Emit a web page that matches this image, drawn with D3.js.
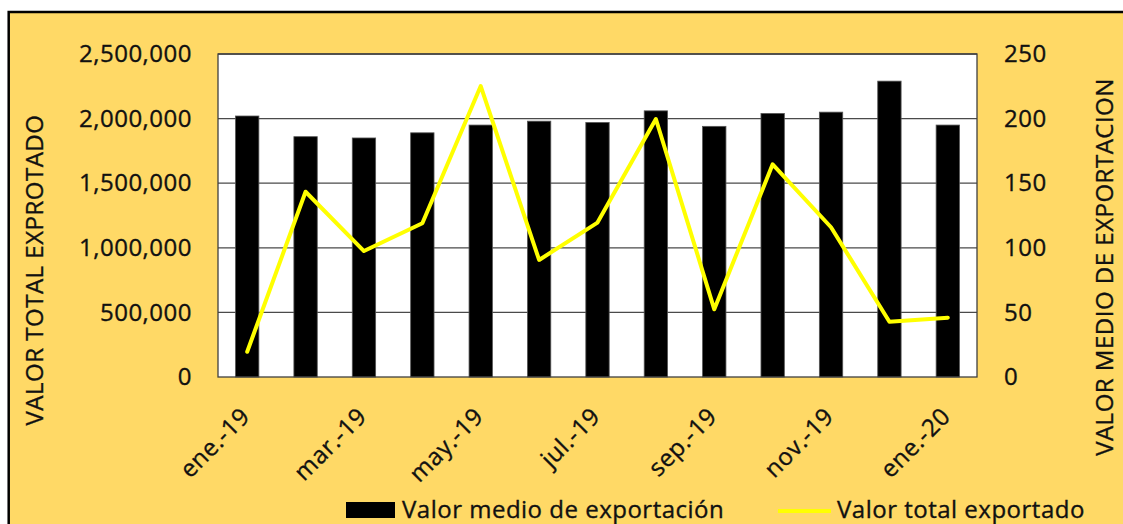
<!DOCTYPE html>
<html>
<head>
<meta charset="utf-8">
<script src="https://cdn.jsdelivr.net/npm/d3@7"></script>
<style>
  html, body { margin: 0; padding: 0; background: #fff; }
  svg { display: block; font-family: "Open Sans", sans-serif; letter-spacing: 0.5px; }
  svg text { stroke: #111; stroke-width: 0.35px; }
</style>
</head>
<body>
<svg id="chart" width="1123" height="524"></svg>
<script>
// monthly export figures
const months = ["ene.-19", "feb.-19", "mar.-19", "abr.-19", "may.-19", "jun.-19", "jul.-19",
  "ago.-19", "sep.-19", "oct.-19", "nov.-19", "dic.-19", "ene.-20"];
const valorMedio = [202, 186, 185, 189, 195, 198, 197, 206, 194, 204, 205, 229, 195];
const valorTotal = [195000, 1434000, 975000, 1190000, 2252000, 906000, 1195000,
  1997000, 524000, 1646000, 1159000, 428000, 459000];
const leftTicks = [0, 500000, 1000000, 1500000, 2000000, 2500000];
const rightTicks = [0, 50, 100, 150, 200, 250];
const shownMonths = ["ene.-19", "mar.-19", "may.-19", "jul.-19", "sep.-19", "nov.-19", "ene.-20"];

const plot = { left: 218, right: 977, top: 54, bottom: 377 };
const svg = d3.select('#chart');

// outer yellow frame (runs past the right/bottom edge like the crop)
svg.append('rect')
  .attr('x', 8.7).attr('y', 12)
  .attr('width', 1130).attr('height', 530)
  .attr('fill', '#FFD966')
  .attr('stroke', '#000')
  .attr('stroke-width', 2.5);

const x = d3.scaleBand()
  .domain(months)
  .range([plot.left, plot.right])
  .paddingInner(0.6)
  .paddingOuter(0.3);

const yL = d3.scaleLinear().domain([0, 2500000]).range([plot.bottom, plot.top]);
const yR = d3.scaleLinear().domain([0, 250]).range([plot.bottom, plot.top]);

// plot background
svg.append('rect')
  .attr('x', plot.left).attr('y', plot.top)
  .attr('width', plot.right - plot.left)
  .attr('height', plot.bottom - plot.top)
  .attr('fill', '#fff');

// gridlines
svg.append('g')
  .selectAll('line')
  .data(leftTicks.slice(1))
  .join('line')
  .attr('x1', plot.left).attr('x2', plot.right)
  .attr('y1', (d) => yL(d)).attr('y2', (d) => yL(d))
  .attr('stroke', '#4a4a4a')
  .attr('stroke-width', 1.3);

// bars: valor medio (right axis)
svg.append('g')
  .selectAll('rect')
  .data(months)
  .join('rect')
  .attr('x', (d) => x(d))
  .attr('y', (d, i) => yR(valorMedio[i]))
  .attr('width', x.bandwidth())
  .attr('height', (d, i) => plot.bottom - yR(valorMedio[i]))
  .attr('fill', '#000')
  .attr('stroke', '#555')
  .attr('stroke-width', 0.8);

// plot border
svg.append('rect')
  .attr('x', plot.left).attr('y', plot.top)
  .attr('width', plot.right - plot.left)
  .attr('height', plot.bottom - plot.top)
  .attr('fill', 'none')
  .attr('stroke', '#404040')
  .attr('stroke-width', 1.3);

// line: valor total (left axis)
const line = d3.line()
  .x((d, i) => x(months[i]) + x.bandwidth() / 2)
  .y((d) => yL(d));

svg.append('path')
  .datum(valorTotal)
  .attr('d', line)
  .attr('fill', 'none')
  .attr('stroke', '#FFFF00')
  .attr('stroke-width', 4)
  .attr('stroke-linejoin', 'round')
  .attr('stroke-linecap', 'round');

// axes
const styleAxis = (g) => {
  g.select('.domain').remove();
  g.selectAll('text')
    .attr('fill', '#111')
    .style('font-size', '24px')
    .style('font-family', '"Open Sans", sans-serif');
};

svg.append('g')
  .attr('transform', `translate(${plot.left},0)`)
  .call(d3.axisLeft(yL).tickValues(leftTicks).tickFormat(d3.format(',')).tickSize(0).tickPadding(26))
  .call(styleAxis);

svg.append('g')
  .attr('transform', `translate(${plot.right},0)`)
  .call(d3.axisRight(yR).tickValues(rightTicks).tickSize(0).tickPadding(27))
  .call(styleAxis);

svg.append('g')
  .attr('transform', `translate(0,${plot.bottom})`)
  .call(d3.axisBottom(x).tickValues(shownMonths).tickSize(0))
  .call(styleAxis)
  .selectAll('text')
  .attr('y', 0).attr('dy', 0)
  .attr('text-anchor', 'end')
  .attr('transform', 'translate(4,41) rotate(-45)');

// axis titles
svg.append('text')
  .attr('transform', 'translate(43,270) rotate(-90)')
  .attr('text-anchor', 'middle')
  .attr('fill', '#111')
  .style('font-size', '24px')
  .text('VALOR TOTAL EXPROTADO');

svg.append('text')
  .attr('transform', 'translate(1113,267) rotate(-90)')
  .attr('text-anchor', 'middle')
  .attr('fill', '#111')
  .style('font-size', '24px')
  .text('VALOR MEDIO DE EXPORTACION');

// legend
const legend = svg.append('g').style('font-size', '24px').attr('fill', '#111');
legend.append('rect')
  .attr('x', 346).attr('y', 502)
  .attr('width', 49).attr('height', 16)
  .attr('fill', '#000');
legend.append('text')
  .attr('x', 402).attr('y', 518)
  .text('Valor medio de exportación');
legend.append('line')
  .attr('x1', 778).attr('x2', 831)
  .attr('y1', 511).attr('y2', 511)
  .attr('stroke', '#FFFF00')
  .attr('stroke-width', 4);
legend.append('text')
  .attr('x', 837).attr('y', 518)
  .text('Valor total exportado');
</script>
</body>
</html>
